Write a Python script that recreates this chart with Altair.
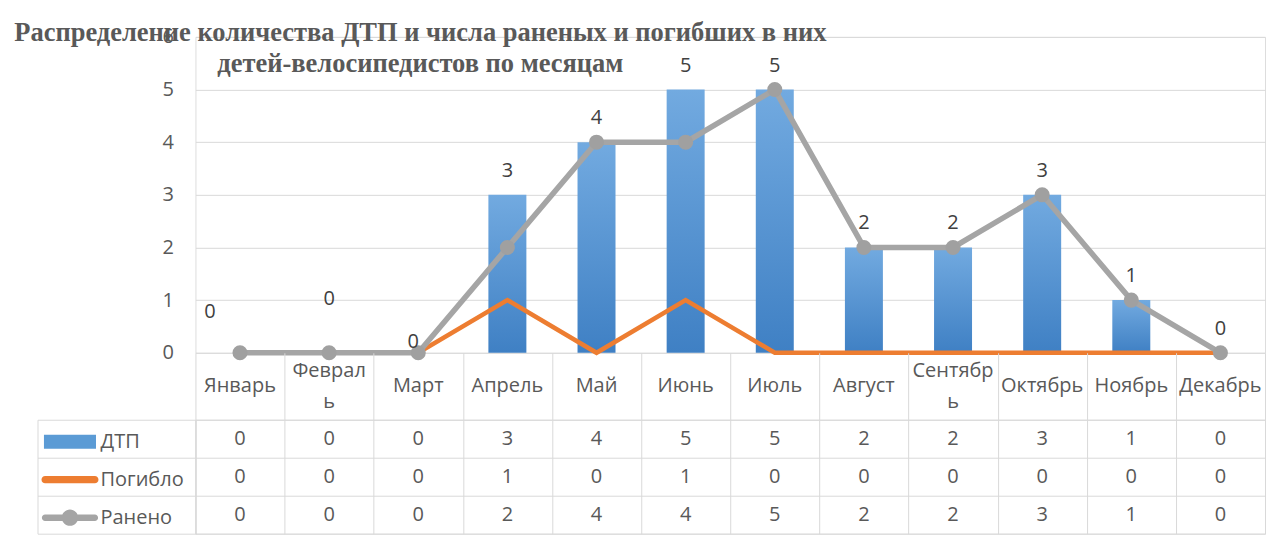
import altair as alt
import pandas as pd

# ---- data ----
months = ["Январь", "Февраль", "Март", "Апрель", "Май", "Июнь",
          "Июль", "Август", "Сентябрь", "Октябрь", "Ноябрь", "Декабрь"]
dtp = [0, 0, 0, 3, 4, 5, 5, 2, 2, 3, 1, 0]
killed = [0, 0, 0, 1, 0, 1, 0, 0, 0, 0, 0, 0]
injured = [0, 0, 0, 2, 4, 4, 5, 2, 2, 3, 1, 0]
series = ["ДТП", "Погибло", "Ранено"]
y_ticks = [0, 1, 2, 3, 4, 5, 6]
title_lines = ["Распределение количества ДТП и числа раненых и погибших в них",
               "детей-велосипедистов по месяцам"]
wrapped_labels = ["Февраль", "Сентябрь"]

wide = pd.DataFrame({"month": months, "dtp": dtp, "killed": killed, "injured": injured})
long = pd.DataFrame({
    "month": months * 3,
    "series": [s for s in series for _ in months],
    "value": dtp + killed + injured,
})

FONT = "Open Sans"
GRID = "#D9D9D9"
TXT = "#595959"
BLUE = "#5B9BD5"
ORANGE = "#ED7D31"
GRAY = "#A5A5A5"
W = 1070
H = 316
FS = 20

xs = alt.Scale(domain=months, paddingInner=0, paddingOuter=0)
yscale = alt.Scale(domain=[0, 6], nice=False)

bar_fill = alt.Gradient(
    gradient="linear", x1=0, x2=0, y1=0, y2=1,
    stops=[alt.GradientStop(color="#72AAE0", offset=0),
           alt.GradientStop(color="#3F80C4", offset=1)],
)

base = alt.Chart(wide)
x_top = alt.X("month:N", sort=months, scale=xs, axis=None)

bars = base.mark_bar(size=38, fill=bar_fill).encode(
    x=x_top,
    y=alt.Y("dtp:Q", scale=yscale, title=None,
            axis=alt.Axis(values=y_ticks, grid=True, gridColor=GRID, gridWidth=1,
                          domain=False, ticks=False, labelPadding=22,
                          labelFontSize=FS, labelColor=TXT, labelFont=FONT)),
)
line_k = base.mark_line(color=ORANGE, strokeWidth=4.5).encode(
    x=x_top, y=alt.Y("killed:Q", scale=yscale))
line_i = base.mark_line(color=GRAY, strokeWidth=5.5).encode(
    x=x_top, y=alt.Y("injured:Q", scale=yscale))
pts_i = base.mark_circle(size=227, color="#A0A0A0", opacity=1).encode(
    x=x_top, y=alt.Y("injured:Q", scale=yscale))

lbl_enc = dict(x=x_top, y=alt.Y("dtp:Q", scale=yscale), text="dtp:Q")
lbl_kw = dict(fontSize=FS, color="#404040", font=FONT, baseline="middle")
labels = base.mark_text(dy=-24, **lbl_kw).encode(**lbl_enc).transform_filter(
    "indexof(['Январь','Февраль','Март'], datum.month) < 0")
lbl_jan = base.mark_text(dx=-30, dy=-41, **lbl_kw).encode(**lbl_enc).transform_filter(
    "datum.month == 'Январь'")
lbl_feb = base.mark_text(dy=-54, **lbl_kw).encode(**lbl_enc).transform_filter(
    "datum.month == 'Февраль'")
lbl_mar = base.mark_text(dx=-5, dy=-11, **lbl_kw).encode(**lbl_enc).transform_filter(
    "datum.month == 'Март'")

# category row of the data table (month names, centred in their cells)
wrap_list = ",".join("'" + w + "'" for w in wrapped_labels)
cat_kw = dict(fontSize=FS, color=TXT, font=FONT, baseline="middle")
cat_single = base.mark_text(dy=33.5, **cat_kw).encode(
    x=x_top, y=alt.datum(0), text="month:N"
).transform_filter(f"indexof([{wrap_list}], datum.month) < 0")
cat_wrapped = base.mark_text(dy=18, lineHeight=31, lineBreak="\n", **cat_kw).encode(
    x=x_top, y=alt.datum(0), text="lbl:N"
).transform_filter(f"indexof([{wrap_list}], datum.month) >= 0").transform_calculate(
    lbl="slice(datum.month, 0, -1) + '\\n' + slice(datum.month, -1)")

top = alt.layer(bars, line_k, line_i, pts_i, labels, lbl_jan, lbl_feb, lbl_mar,
                cat_single, cat_wrapped).properties(
    width=W, height=H,
    title=alt.TitleParams(
        text=title_lines, anchor="start", align="center", frame="group",
        dx=225, dy=50.8, offset=0,
        font="Liberation Serif", fontSize=26.5, fontWeight="bold", color=TXT, lineHeight=31,
    ),
)

# ---- data table ----
tbase = alt.Chart(long)
x_tab = alt.X("month:N", sort=months, scale=xs, title=None,
              axis=alt.Axis(orient="top", tickBand="extent", tickSize=67, tickColor=GRID,
                            domain=False, grid=True, gridColor=GRID, labels=False))
y_scale_tab = alt.Scale(domain=series, paddingInner=0, paddingOuter=0)
y_tab = alt.Y("series:N", sort=series, scale=y_scale_tab, title=None,
              axis=alt.Axis(tickBand="extent", tickSize=158, tickColor=GRID, domain=True,
                            domainColor=GRID, grid=True, gridColor=GRID, labels=False))

cells = tbase.mark_text(fontSize=FS, color=TXT, font=FONT, baseline="middle").encode(
    x=x_tab, y=y_tab, text="value:Q")

shapes = [
    "M-1.37,-0.37H1.37V0.37H-1.37Z",
    "M-1.31,-0.19H1.31A0.19,0.19 0 0 1 1.31,0.19H-1.31A0.19,0.19 0 0 1 -1.31,-0.19Z",
    "M-1.31,-0.17H1.31A0.17,0.17 0 0 1 1.31,0.17H-1.31A0.17,0.17 0 0 1 -1.31,-0.17Z"
    "M-0.43,0A0.43,0.43 0 1 1 0.43,0A0.43,0.43 0 1 1 -0.43,0Z",
]
leg = alt.Legend(orient="none", legendX=-144.5, legendY=386, title=None, symbolSize=1444,
                 labelFontSize=FS, labelFont=FONT, labelColor=TXT, labelOffset=11.5,
                 rowPadding=9, padding=0, symbolStrokeWidth=0, symbolOpacity=1)
legend_layer = tbase.mark_point(filled=True, opacity=1).encode(
    y=alt.Y("series:N", sort=series, scale=y_scale_tab, title=None,
            axis=alt.Axis(orient="left", offset=158, domain=True, domainColor=GRID,
                          ticks=False, labels=False, grid=False)),
    fill=alt.Fill("series:N", scale=alt.Scale(domain=series, range=[BLUE, ORANGE, GRAY]),
                  legend=leg),
    shape=alt.Shape("series:N", scale=alt.Scale(domain=series, range=shapes), legend=leg),
).transform_filter("false")

table = alt.layer(cells, legend_layer).resolve_scale(y="independent").resolve_axis(
    y="independent").properties(width=W, height=114)

chart = alt.vconcat(top, table, spacing=67, bounds="flush").properties(
    padding={"left": 4.5, "top": 10.8, "right": 0, "bottom": 1}
).configure_view(stroke=None).configure(background="white")

chart.save("out.html", embed_options={"renderer": "svg", "actions": False})
